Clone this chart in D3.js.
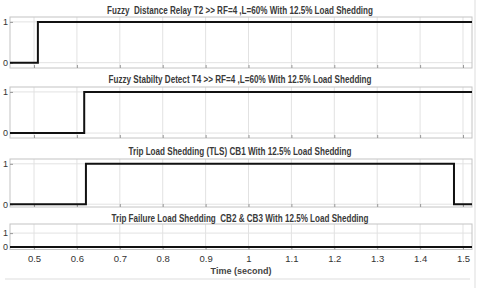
<!DOCTYPE html>
<html><head><meta charset="utf-8">
<script src="https://cdn.jsdelivr.net/npm/d3@7"></script>
<style>body{margin:0;background:#fff}svg{display:block}text{white-space:pre}</style>
</head><body>
<svg id="c" width="480" height="288"></svg>
<script>
const titles = [
  "Fuzzy  Distance Relay T2 >> RF=4 ,L=60% With 12.5% Load Shedding",
  "Fuzzy Stabilty Detect T4 >> RF=4 ,L=60% With 12.5% Load Shedding",
  "Trip Load Shedding (TLS) CB1 With 12.5% Load Shedding",
  "Trip Failure Load Shedding  CB2 & CB3 With 12.5% Load Shedding"
];
const times1 = [0.444, 0.509, 1.521];
const vals1  = [0, 1, 1];
const times2 = [0.444, 0.617, 1.521];
const vals2  = [0, 1, 1];
const times3 = [0.444, 0.621, 1.479, 1.521];
const vals3  = [0, 1, 0, 0];
const times4 = [0.444, 1.521];
const vals4  = [0, 0];
const xTicks = [0.5, 0.6, 0.7, 0.8, 0.9, 1, 1.1, 1.2, 1.3, 1.4, 1.5];
const xTickLabels = ["0.5","0.6","0.7","0.8","0.9","1","1.1","1.2","1.3","1.4","1.5"];
const yTicks = [0, 1];
const xLabel = "Time (second)";

const series = [[times1, vals1], [times2, vals2], [times3, vals3], [times4, vals4]];
const panels = [
  {top: 17, bottom: 68, dom: [-0.13, 1.12], ty: 13.5, tw: 266},
  {top: 87, bottom: 138, dom: [-0.12, 1.12], ty: 82.5, tw: 263},
  {top: 159, bottom: 207, dom: [-0.07, 1.12], ty: 154.5, tw: 223},
  {top: 224, bottom: 249.5, dom: [-0.19, 1.66], ty: 221.5, tw: 257}
];
const svg = d3.select("#c");
const x = d3.scaleLinear().domain([0.444, 1.521]).range([10, 472]);
const font = "'Liberation Sans', Arial, sans-serif";

panels.forEach((p, i) => {
  const y = d3.scaleLinear().domain(p.dom).range([p.bottom, p.top]);
  const g = svg.append("g");
  g.selectAll(".vg").data(xTicks).join("line")
    .attr("x1", d => x(d)).attr("x2", d => x(d))
    .attr("y1", p.top).attr("y2", p.bottom)
    .attr("stroke", "#e2e2e2").attr("stroke-width", 1);
  g.selectAll(".hg").data(yTicks).join("line")
    .attr("x1", x.range()[0]).attr("x2", x.range()[1])
    .attr("y1", d => y(d)).attr("y2", d => y(d))
    .attr("stroke", "#e2e2e2").attr("stroke-width", 1);
  g.append("rect").attr("x", x.range()[0]).attr("y", p.top)
    .attr("width", x.range()[1] - x.range()[0]).attr("height", p.bottom - p.top)
    .attr("fill", "none").attr("stroke", "#c4c4c4").attr("stroke-width", 1);
  const ya = d3.axisLeft(y).tickValues(yTicks).tickSize(-3).tickPadding(2).tickFormat(d3.format("d"));
  const yg = g.append("g").attr("transform", `translate(${x.range()[0]},0)`).call(ya);
  yg.select(".domain").remove();
  yg.selectAll("line").attr("stroke", "#999");
  yg.selectAll("text").attr("font-family", font).attr("font-size", 9).attr("fill", "#333");
  const xa = d3.axisBottom(x).tickValues(xTicks).tickSize(-3).tickFormat((d, k) => i === 3 ? xTickLabels[k] : "");
  const xg = g.append("g").attr("transform", `translate(0,${p.bottom})`).call(xa);
  xg.select(".domain").remove();
  xg.selectAll("line").attr("stroke", "#999");
  xg.selectAll("text").attr("font-family", font).attr("font-size", 9.5).attr("fill", "#333").attr("dy", "1.05em");
  const [ts, vs] = series[i];
  const pts = ts.map((t, k) => [t, vs[k]]);
  g.append("path").datum(pts)
    .attr("d", d3.line().x(d => x(d[0])).y(d => y(d[1])).curve(d3.curveStepAfter))
    .attr("fill", "none").attr("stroke", "#111").attr("stroke-width", 2);
  g.append("text").attr("x", 240).attr("y", p.ty).attr("text-anchor", "middle")
    .attr("font-family", font).attr("font-size", 10).attr("font-weight", "bold")
    .attr("textLength", p.tw).attr("lengthAdjust", "spacingAndGlyphs")
    .attr("fill", "#3a3a3a").text(titles[i]);
});
svg.append("text").attr("x", 241).attr("y", 274).attr("text-anchor", "middle")
  .attr("font-family", font).attr("font-size", 9).attr("font-weight", "bold").attr("fill", "#444").text(xLabel);
svg.append("line").attr("x1", 5).attr("x2", 470).attr("y1", 279).attr("y2", 279).attr("stroke", "#ddd");
svg.append("line").attr("x1", 475).attr("x2", 475).attr("y1", 0).attr("y2", 288).attr("stroke", "#ddd");
</script>
</body></html>
